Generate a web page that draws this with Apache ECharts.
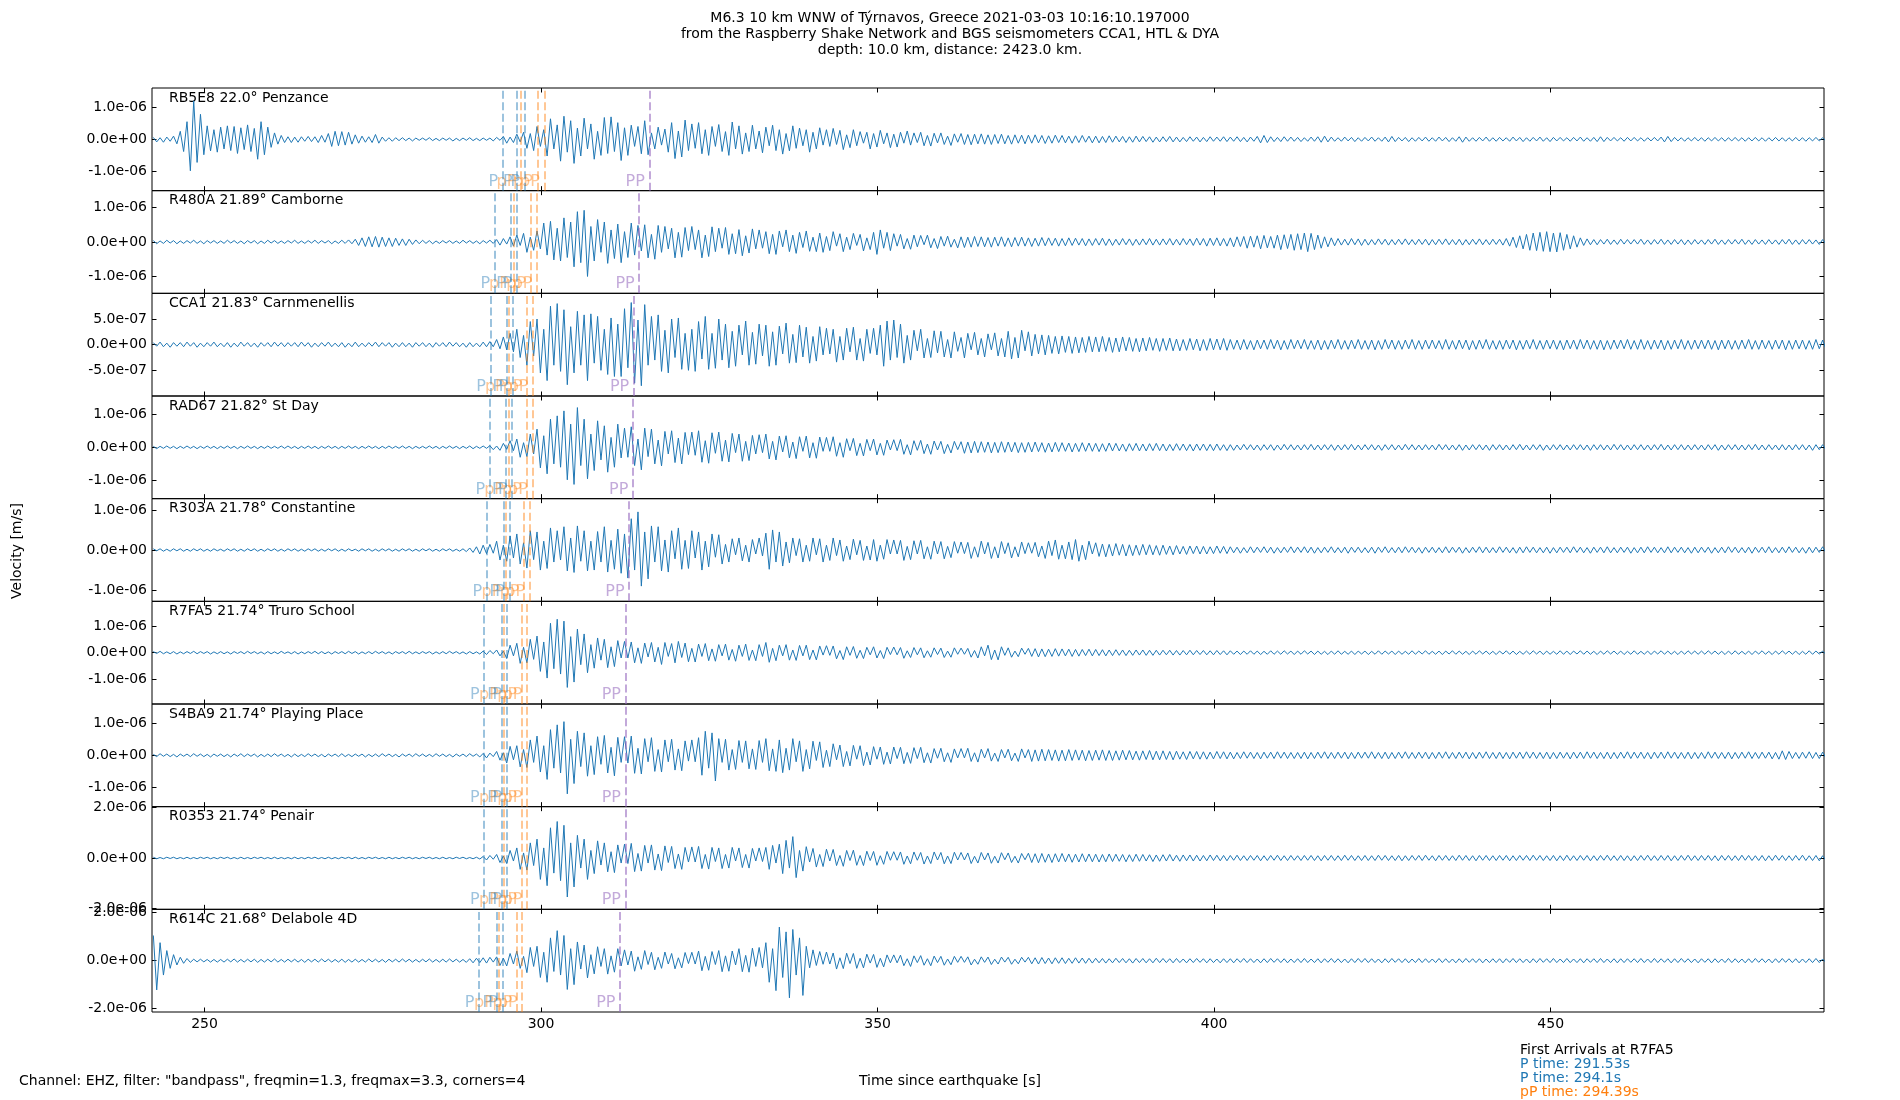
<!DOCTYPE html>
<html>
<head>
<meta charset="utf-8">
<title>Seismograms</title>
<script src="https://cdn.jsdelivr.net/npm/echarts@6/dist/echarts.min.js"></script>
<style>
html, body { margin: 0; padding: 0; background: #fff; }
#chart { width: 1900px; height: 1100px; }
</style>
</head>
<body>
<div id="chart"></div>
<script>
// samples every 0.5 s from 242.4 s, velocity in units of 1e-8 m/s
var T0 = 242.4, DT = 0.5;

var stations = ['RB5E8 22.0° Penzance', 'R480A 21.89° Camborne', 'CCA1 21.83° Carnmenellis',
    'RAD67 21.82° St Day', 'R303A 21.78° Constantine', 'R7FA5 21.74° Truro School',
    'S4BA9 21.74° Playing Place', 'R0353 21.74° Penair', 'R614C 21.68° Delabole 4D'];

var yMax = [1.6e-6, 1.49e-6, 1.0e-6, 1.55e-6, 1.28e-6, 1.92e-6, 1.6e-6, 2.04e-6, 2.14e-6];
var yTicks = [[-1e-6, 0, 1e-6], [-1e-6, 0, 1e-6], [-5e-7, 0, 5e-7], [-1e-6, 0, 1e-6], [-1e-6, 0, 1e-6],
    [-1e-6, 0, 1e-6], [-1e-6, 0, 1e-6], [-2e-6, 0, 2e-6], [-2e-6, 0, 2e-6]];
var xTicks = [250, 300, 350, 400, 450];

// arrival times (s) per station, top to bottom
var phaseNames = ['P', 'P', 'pP', 'P', 'pP', 'pP', 'PP'];
var tP1 = [294.28, 293.10, 292.46, 292.35, 291.93, 291.53, 291.53, 291.53, 290.75];
var tP2 = [296.46, 295.45, 294.90, 294.80, 294.44, 294.10, 294.10, 294.10, 293.40];
var tpP1 = [297.00, 295.88, 295.27, 295.16, 294.76, 294.39, 294.39, 294.39, 293.65];
var tP3 = [297.55, 296.42, 295.80, 295.70, 295.28, 294.87, 294.87, 294.87, 294.25];
var tpP2 = [299.44, 298.45, 297.91, 297.82, 297.46, 297.10, 297.10, 297.10, 296.40];
var tpP3 = [300.48, 299.39, 298.80, 298.70, 298.30, 297.91, 297.91, 297.91, 297.20];
var tPP = [316.08, 314.58, 313.77, 313.63, 313.09, 312.54, 312.54, 312.54, 311.73];

var firstArrivalNames = ['P', 'P', 'pP'];
var firstArrivalTimes = [291.53, 294.1, 294.39];

var penzance = [
6,-8,5,-9,7,-6,10,-14,25,-38,55,-98,120,-72,78,-48,42,-36,30,-40,
38,-30,42,-35,40,-44,36,-32,45,-38,34,-62,55,-48,38,-25,20,-15,12,-10,
8,-10,7,-9,8,-6,9,-7,8,-10,12,-9,18,-22,25,-20,24,-18,22,-15,
14,-12,10,-9,8,-10,15,-12,7,-6,5,-6,5,-4,5,-4,4,-5,4,-3,
4,-3,5,-4,3,-4,4,-3,4,-5,3,-4,4,-3,5,-4,3,-4,4,-3,
4,-5,6,-3,9,-12,7,-10,16,-8,22,-28,18,-35,40,-22,30,-52,64,-30,
45,-68,72,-40,58,-75,35,-52,66,-30,48,-62,25,-50,68,-44,70,-38,52,-66,
36,-50,44,-22,40,-45,58,-48,20,-30,38,-18,32,-40,52,-60,26,-55,60,-35,
48,-28,52,-45,30,-50,40,-22,46,-38,24,-50,54,-30,42,-46,20,-38,44,-30,
26,-42,38,-20,44,-35,30,-46,18,-36,42,-28,35,-20,30,-40,22,-30,36,-18,
30,-22,34,-16,28,-32,14,-26,30,-20,24,-12,22,-30,18,-24,28,-14,20,-26,
16,-24,22,-12,26,-18,20,-10,22,-20,12,-21,19,-11,20,-16,10,-19,17,-9,
18,-16,15,-17,16,-14,17,-15,14,-16,15,-13,16,-14,12,-15,14,-12,13,-14,
13,-12,14,-11,12,-13,11,-12,13,-10,12,-11,10,-12,11,-10,12,-9,10,-11,
10,-11,9,-10,11,-9,10,-8,9,-10,8,-9,10,-8,9,-7,8,-9,7,-8,
8,-7,9,-8,7,-8,6,-7,8,-6,7,-8,6,-7,8,-6,7,-6,8,-7,
7,-6,8,-7,6,-8,7,-6,9,-11,12,-10,8,-7,6,-7,8,-6,7,-6,
6,-7,5,-6,7,-6,8,-9,10,-8,7,-6,5,-6,7,-5,6,-7,5,-6,
6,-5,7,-6,5,-6,7,-8,9,-7,6,-5,6,-7,5,-6,6,-5,7,-6,
5,-6,7,-5,6,-7,5,-6,8,-9,7,-6,5,-6,6,-5,7,-6,5,-6,
6,-5,5,-6,7,-5,6,-7,5,-6,6,-5,7,-6,5,-7,6,-5,6,-5,
5,-6,6,-5,7,-6,5,-6,6,-7,8,-7,6,-5,6,-5,5,-6,6,-5,
6,-5,5,-6,5,-5,6,-5,7,-8,9,-7,6,-5,5,-6,5,-5,6,-5,
5,-6,5,-5,6,-5,5,-6,5,-5,6,-5,5,-6,5,-5,6,-5,5,-6,
5,-5,6,-5,5,-6,5,-5,6,-5,5,-6,5,-5,6,-5,5,-6,5,-5
];

var camborne = [
4,-5,3,-4,5,-3,4,-5,3,-4,4,-3,5,-4,3,-5,4,-3,4,-4,
3,-4,5,-3,4,-4,3,-5,4,-3,4,-5,3,-4,5,-3,4,-4,3,-4,
4,-3,5,-4,3,-4,4,-3,5,-4,4,-3,4,-5,3,-4,5,-4,6,-5,
8,-10,12,-13,15,-14,16,-15,14,-13,12,-13,11,-10,9,-10,8,-7,6,-5,
5,-4,4,-5,3,-4,4,-3,4,-4,3,-4,5,-3,4,-4,3,-5,4,-3,
5,-4,7,-9,10,-6,15,-12,20,-10,25,-30,14,-24,32,-20,55,-38,60,-52,
40,-55,70,-45,58,-72,88,-60,92,-100,45,-55,65,-30,58,-62,35,-48,52,-60,
30,-45,55,-38,48,-26,50,-46,22,-50,48,-30,45,-20,40,-46,28,-44,42,-25,
45,-22,35,-46,20,-42,44,-28,40,-18,42,-36,24,-34,36,-40,18,-32,38,-20,
35,-18,30,-34,22,-36,32,-14,35,-28,20,-33,28,-16,32,-27,14,-28,26,-30,
16,-25,30,-12,24,-28,14,-22,25,-10,22,-26,12,-22,28,-36,35,-18,28,-25,
24,-12,22,-20,10,-21,20,-14,19,-8,20,-17,10,-19,16,-12,17,-15,8,-17,
15,-16,14,-15,16,-13,15,-14,13,-15,14,-12,15,-13,12,-14,13,-12,14,-12,
12,-13,11,-12,13,-11,12,-10,11,-12,10,-11,12,-10,11,-9,10,-11,9,-10,
10,-9,11,-10,9,-10,8,-9,10,-8,9,-10,8,-9,9,-8,10,-9,8,-9,
9,-8,10,-9,8,-9,10,-8,9,-10,11,-9,10,-12,11,-10,12,-11,10,-12,
12,-14,15,-13,16,-18,17,-15,18,-20,19,-17,16,-18,20,-22,21,-19,22,-24,
24,-22,26,-28,25,-22,20,-18,15,-14,12,-11,10,-9,8,-9,10,-8,9,-10,
8,-9,7,-8,9,-7,8,-9,7,-8,8,-7,9,-8,7,-8,8,-7,8,-9,
7,-8,8,-7,9,-8,7,-8,8,-9,7,-8,8,-7,9,-8,7,-8,8,-7,
8,-9,10,-12,14,-16,18,-20,22,-24,26,-25,28,-27,30,-28,26,-29,27,-24,
22,-20,18,-15,12,-10,9,-8,7,-8,7,-6,8,-7,6,-7,8,-6,7,-6,
7,-6,8,-7,6,-7,7,-6,8,-7,6,-7,7,-6,7,-8,6,-7,7,-6,
6,-7,7,-6,8,-7,6,-7,7,-6,7,-6,8,-7,6,-7,7,-6,6,-7,
7,-6,6,-7,7,-6,8,-7,6,-7,7,-6,7,-6,6,-7,7,-6,6,-7
];

var carnmenellis = [
4,-3,5,-4,3,-5,4,-3,4,-4,5,-3,4,-5,3,-4,4,-3,5,-4,
3,-4,4,-5,3,-4,5,-3,4,-4,3,-5,4,-3,4,-4,5,-3,4,-4,
4,-3,4,-4,5,-3,4,-5,3,-4,4,-3,5,-4,3,-4,4,-5,3,-4,
5,-4,3,-4,4,-3,5,-4,4,-3,4,-5,3,-4,4,-4,3,-5,4,-3,
4,-4,3,-5,4,-3,4,-4,5,-3,4,-4,3,-5,4,-4,3,-4,5,-4,
6,-4,10,-8,15,-10,22,-14,30,-25,18,-40,45,-22,50,-55,30,-70,75,-40,
80,-52,68,-78,35,-55,65,-40,58,-70,60,-36,55,-50,30,-58,52,-62,40,-62,
70,-45,82,-75,48,-80,78,-40,55,-30,58,-52,28,-55,50,-25,52,-48,22,-50,
30,-52,45,-28,55,-48,22,-46,50,-30,40,-45,26,-42,38,-20,46,-40,24,-38,
40,-22,38,-42,25,-40,36,-18,42,-36,20,-35,38,-24,34,-36,16,-32,35,-20,
32,-18,30,-34,16,-30,32,-14,34,-30,12,-32,30,-17,32,-20,38,-42,46,-30,
48,-25,40,-36,18,-30,28,-12,30,-26,12,-25,27,-16,26,-24,10,-26,25,-13,
14,-26,22,-10,24,-20,12,-24,21,-10,23,-22,12,-24,26,-28,14,-26,28,-12,
25,-22,20,-18,19,-20,18,-17,16,-18,17,-15,16,-17,15,-16,14,-15,16,-14,
15,-14,16,-13,14,-15,13,-14,15,-12,14,-13,12,-14,13,-12,14,-11,12,-13,
12,-11,13,-12,11,-12,10,-11,12,-10,11,-12,10,-11,12,-10,11,-10,12,-11,
10,-9,9,-10,10,-9,8,-10,9,-8,9,-9,10,-8,9,-10,8,-9,10,-8,
9,-8,10,-9,8,-9,9,-10,8,-9,9,-8,10,-9,8,-9,9,-8,10,-9,
8,-9,9,-10,8,-9,10,-8,9,-9,8,-9,9,-8,10,-9,8,-9,9,-8,
9,-8,8,-9,10,-9,8,-9,9,-8,9,-10,8,-9,9,-8,10,-9,8,-9,
8,-9,9,-8,9,-10,8,-9,9,-8,10,-9,8,-9,9,-8,9,-9,8,-10,
9,-8,9,-9,10,-8,9,-9,8,-9,9,-10,8,-9,9,-8,9,-8,10,-9,
8,-9,10,-9,8,-9,9,-8,9,-10,8,-9,9,-8,10,-9,8,-9,9,-8,
9,-8,9,-9,8,-10,9,-8,9,-9,8,-9,9,-8,10,-9,8,-9,9,-8,
8,-9,9,-8,9,-10,8,-9,9,-8,9,-9,8,-9,10,-8,9,-9,8,-9
];

var stDay = [
3,-4,3,-3,4,-3,3,-4,3,-3,4,-3,3,-4,3,-3,4,-3,3,-4,
3,-3,4,-3,3,-4,3,-3,4,-3,3,-4,3,-3,4,-3,3,-3,4,-3,
4,-3,3,-4,3,-3,4,-3,3,-4,3,-3,4,-3,3,-4,3,-3,4,-3,
3,-4,3,-3,4,-3,3,-4,3,-3,4,-3,3,-3,4,-3,3,-4,3,-3,
3,-3,4,-3,3,-4,3,-3,4,-3,3,-4,3,-3,4,-4,3,-3,4,-3,
5,-7,4,-9,12,-6,20,-10,25,-30,14,-28,40,-20,55,-62,35,-80,85,-50,
95,-60,110,-98,70,-112,120,-55,85,-95,40,-70,80,-38,65,-75,30,-60,70,-32,
58,-30,62,-55,25,-68,58,-28,55,-50,22,-56,48,-20,50,-46,28,-50,45,-22,
46,-24,50,-45,20,-48,44,-18,46,-42,22,-44,42,-16,40,-42,18,-40,36,-20,
38,-16,40,-35,18,-38,34,-14,35,-32,16,-34,32,-12,34,-32,14,-33,31,-12,
30,-12,32,-27,14,-30,26,-10,27,-25,12,-26,24,-10,25,-23,12,-24,22,-8,
23,-10,24,-21,8,-23,20,-9,21,-19,10,-21,19,-8,18,-19,9,-17,18,-7,
17,-18,16,-17,18,-16,17,-15,16,-17,15,-16,17,-15,16,-14,15,-16,14,-15,
15,-14,16,-13,14,-15,13,-14,15,-13,14,-12,13,-14,12,-13,14,-12,13,-12,
12,-13,11,-12,13,-11,12,-11,10,-12,11,-10,12,-11,10,-11,11,-10,12,-10,
10,-11,9,-10,11,-9,10,-10,9,-11,10,-9,10,-10,9,-10,10,-9,8,-10,
8,-9,7,-8,9,-7,8,-8,7,-9,8,-7,8,-9,7,-8,9,-7,8,-8,
7,-8,8,-7,9,-8,7,-8,8,-7,8,-9,7,-8,8,-7,9,-8,7,-8,
8,-7,8,-8,7,-9,8,-7,8,-8,7,-8,9,-7,8,-8,7,-8,8,-7,
7,-8,9,-7,8,-8,7,-8,8,-9,7,-8,8,-7,8,-8,7,-9,8,-7,
8,-8,7,-8,8,-7,9,-8,7,-8,8,-7,8,-9,7,-8,8,-7,8,-8,
7,-8,8,-7,8,-8,7,-9,8,-7,8,-8,7,-8,9,-7,8,-8,7,-8,
8,-7,8,-8,7,-8,8,-7,9,-8,7,-8,8,-7,8,-8,7,-8,8,-7,
7,-8,8,-7,8,-9,7,-8,8,-7,8,-8,7,-8,8,-7,9,-8,7,-8,
8,-7,7,-8,8,-8,7,-8,8,-7,8,-8,7,-9,8,-7,8,-8,7,-8
];

var constantine = [
3,-2,3,-3,2,-3,3,-2,3,-3,2,-3,3,-2,3,-3,2,-3,3,-2,
2,-3,3,-2,3,-3,2,-3,3,-2,3,-3,2,-3,3,-2,3,-3,2,-3,
3,-2,3,-3,2,-3,3,-2,3,-3,2,-3,3,-2,3,-3,2,-3,3,-2,
2,-3,3,-2,3,-3,2,-3,3,-2,3,-3,2,-3,3,-2,3,-3,2,-3,
3,-2,3,-3,2,-3,3,-2,3,-3,2,-3,3,-4,5,-6,8,-10,12,-9,
14,-8,22,-25,12,-28,35,-20,40,-35,18,-45,48,-24,45,-50,22,-46,55,-30,
48,-25,58,-52,30,-56,60,-28,48,-52,22,-50,46,-30,58,-55,24,-48,52,-58,
40,-70,78,-50,95,-90,45,-72,60,-30,58,-52,25,-55,48,-22,55,-48,24,-46,
48,-20,45,-50,22,-42,40,-18,38,-35,14,-30,28,-12,30,-27,12,-30,26,-10,
30,-15,42,-48,50,-30,45,-40,20,-32,30,-14,28,-30,12,-28,30,-12,28,-30,
12,-26,30,-14,25,-28,10,-24,27,-12,24,-26,10,-25,26,-28,12,-23,26,-10,
25,-10,24,-26,9,-24,23,-10,24,-22,8,-23,22,-10,21,-22,9,-19,21,-8,
20,-9,19,-21,8,-18,22,-10,19,-21,8,-20,21,-9,18,-20,8,-17,20,-9,
18,-8,19,-17,10,-21,22,-14,25,-23,12,-22,20,-24,26,-28,12,-24,22,-10,
18,-16,15,-17,14,-15,16,-13,14,-15,13,-14,12,-13,14,-12,13,-12,11,-13,
12,-11,10,-12,11,-10,9,-11,10,-9,10,-10,9,-10,8,-9,10,-8,9,-9,
8,-7,7,-8,6,-7,8,-7,7,-6,8,-7,7,-8,6,-7,7,-6,8,-7,
7,-6,8,-7,7,-8,6,-7,7,-6,8,-7,6,-7,7,-8,7,-6,7,-7,
6,-7,7,-8,7,-6,8,-7,6,-7,7,-7,8,-6,7,-7,6,-8,7,-6,
7,-7,6,-7,8,-7,7,-6,7,-8,6,-7,7,-6,8,-7,7,-7,6,-7,
8,-6,7,-7,6,-8,7,-7,8,-6,7,-7,6,-7,7,-8,6,-7,7,-6,
7,-7,8,-6,7,-7,6,-8,7,-6,7,-7,8,-7,6,-7,7,-6,7,-8,
6,-7,7,-7,8,-6,7,-7,6,-7,8,-7,7,-6,7,-7,6,-8,7,-7,
7,-6,7,-8,6,-7,7,-7,8,-6,7,-7,6,-7,7,-8,7,-6,7,-7,
8,-7,6,-7,7,-7,8,-6,7,-7,6,-8,7,-7,7,-6,8,-7,6,-7
];

var truroSchool = [
4,-3,5,-4,3,-4,4,-5,3,-4,4,-3,5,-4,4,-3,4,-5,3,-4,
4,-4,3,-5,4,-3,4,-4,5,-3,4,-4,3,-5,4,-4,3,-4,5,-3,
3,-4,4,-5,3,-4,4,-3,5,-4,4,-4,3,-5,4,-3,4,-4,5,-3,
4,-5,3,-4,4,-4,5,-3,4,-4,3,-5,4,-3,4,-4,5,-4,3,-4,
4,-3,4,-5,3,-4,4,-4,5,-3,4,-4,3,-5,4,-4,3,-5,6,-7,
8,-4,10,-12,6,-22,28,-12,35,-40,20,-38,50,-25,62,-70,40,-95,110,-60,
125,-80,118,-130,60,-110,88,-45,70,-75,30,-58,55,-28,50,-56,22,-52,45,-20,
42,-20,40,-38,18,-40,36,-16,38,-35,20,-44,38,-14,34,-38,42,-18,36,-34,
16,-35,32,-14,34,-30,14,-32,30,-12,32,-28,12,-32,28,-14,32,-29,10,-30,
30,-14,38,-36,16,-30,28,-12,30,-28,10,-29,27,-12,28,-26,10,-27,25,-9,
26,-10,25,-23,8,-26,22,-10,23,-21,9,-22,20,-8,22,-20,8,-22,20,-7,
21,-8,19,-21,7,-18,19,-8,18,-19,7,-17,18,-7,17,-18,6,-17,18,-6,
17,-6,16,-17,8,-20,22,-12,28,-26,10,-27,22,-10,18,-17,6,-15,17,-6,
16,-14,15,-16,14,-15,13,-14,15,-13,14,-12,13,-14,12,-13,12,-11,13,-12,
12,-11,11,-12,10,-11,11,-10,10,-11,9,-10,10,-9,10,-10,9,-10,9,-9,
9,-8,9,-9,8,-9,8,-8,9,-8,8,-7,8,-8,7,-8,8,-7,7,-8,
7,-6,6,-7,6,-6,7,-6,6,-7,5,-6,7,-6,6,-6,7,-5,6,-7,
6,-6,7,-5,6,-7,6,-6,5,-7,6,-6,7,-6,5,-6,6,-7,6,-5,
6,-7,5,-6,7,-6,6,-5,6,-7,6,-6,5,-6,7,-6,6,-5,7,-6,
5,-6,6,-7,6,-5,7,-6,6,-6,5,-7,6,-6,7,-5,6,-6,5,-7,
6,-5,7,-6,6,-7,5,-6,6,-6,7,-5,6,-7,6,-6,5,-6,7,-6,
6,-7,6,-5,7,-6,6,-6,5,-7,6,-6,7,-5,6,-6,6,-7,5,-6,
7,-6,5,-6,6,-7,6,-5,7,-6,6,-6,5,-7,6,-6,7,-5,6,-6,
6,-6,7,-5,6,-6,5,-7,6,-6,7,-6,5,-6,6,-7,6,-5,7,-6,
5,-7,6,-6,7,-5,6,-6,6,-7,5,-6,7,-6,6,-5,6,-7,6,-6
];

var playingPlace = [
3,-4,5,-3,4,-4,3,-5,4,-3,4,-4,5,-3,4,-4,3,-5,4,-3,
4,-4,3,-5,4,-3,5,-4,4,-3,4,-5,3,-4,4,-4,5,-3,4,-4,
3,-5,4,-4,3,-4,5,-3,4,-4,3,-5,4,-3,4,-4,5,-4,3,-4,
4,-3,4,-5,3,-4,4,-4,5,-3,4,-4,3,-5,4,-3,4,-4,5,-3,
4,-4,3,-4,5,-3,4,-4,3,-5,4,-3,4,-4,5,-3,4,-5,6,-8,
7,-4,12,-15,8,-24,28,-14,30,-36,18,-38,48,-22,60,-52,30,-75,80,-40,
95,-55,105,-120,50,-88,75,-35,70,-65,30,-60,58,-28,62,-55,25,-64,56,-22,
58,-24,60,-56,22,-58,52,-20,55,-50,18,-52,48,-20,50,-46,20,-48,45,-18,
48,-20,55,-62,75,-40,70,-80,52,-22,50,-46,18,-44,46,-22,45,-42,20,-44,
46,-22,52,-48,20,-50,48,-54,22,-46,52,-20,45,-50,18,-42,44,-16,42,-38,
16,-35,36,-14,32,-35,12,-33,31,-12,30,-32,10,-30,27,-12,26,-28,10,-27,
26,-10,25,-26,9,-25,24,-10,25,-23,8,-24,21,-9,22,-20,8,-22,20,-8,
21,-8,22,-19,8,-21,19,-8,21,-18,7,-19,18,-8,19,-17,7,-19,20,-8,
18,-19,17,-18,19,-17,18,-16,17,-18,16,-17,18,-16,17,-15,16,-17,15,-16,
16,-15,17,-16,15,-16,14,-15,16,-14,15,-14,13,-15,14,-13,15,-14,13,-14,
14,-13,12,-14,13,-12,11,-13,12,-11,12,-12,11,-12,10,-11,12,-10,11,-11,
10,-11,9,-10,11,-9,10,-10,9,-11,10,-9,10,-10,11,-9,10,-10,9,-10,
9,-10,10,-11,9,-10,10,-9,11,-10,9,-10,10,-9,10,-11,9,-10,10,-9,
10,-9,11,-10,9,-10,10,-11,9,-10,10,-9,11,-10,9,-10,10,-9,10,-11,
9,-10,10,-9,11,-10,9,-10,10,-9,10,-11,9,-10,10,-9,11,-10,9,-10,
10,-10,9,-11,10,-9,10,-10,11,-9,10,-10,9,-10,10,-11,9,-10,10,-9,
9,-11,10,-9,10,-10,11,-9,10,-10,9,-10,10,-11,9,-10,10,-9,11,-10,
10,-9,10,-10,9,-11,10,-9,10,-10,11,-9,10,-10,9,-10,10,-11,9,-10,
9,-10,11,-9,10,-10,9,-10,10,-11,9,-10,10,-9,11,-10,9,-10,10,-9,
10,-11,9,-12,14,-13,12,-10,9,-10,10,-9,11,-10,9,-10,10,-9,10,-10
];

var penair = [
3,-3,2,-3,3,-2,3,-3,2,-3,3,-3,2,-3,3,-2,3,-3,2,-3,
3,-2,3,-3,2,-3,3,-3,2,-3,3,-2,3,-3,2,-3,3,-3,2,-3,
2,-3,3,-3,2,-3,3,-2,3,-3,2,-3,3,-3,2,-3,3,-2,3,-3,
3,-3,2,-3,3,-2,3,-3,2,-3,3,-3,2,-3,3,-2,3,-3,2,-3,
3,-2,3,-3,2,-3,3,-3,2,-3,3,-2,3,-3,2,-3,3,-4,6,-8,
10,-5,14,-18,8,-22,30,-12,40,-45,20,-48,60,-30,75,-85,40,-110,120,-60,
145,-90,130,-155,60,-115,90,-40,75,-85,30,-62,68,-28,60,-55,25,-58,52,-20,
55,-22,58,-54,18,-52,50,-20,52,-48,16,-50,48,-18,46,-42,16,-45,42,-16,
44,-16,46,-42,14,-44,42,-14,40,-42,14,-40,42,-12,40,-38,14,-40,38,-12,
40,-14,42,-45,50,-20,55,-62,70,-40,85,-78,30,-52,45,-16,38,-36,14,-34,
35,-12,34,-30,10,-33,30,-10,31,-29,10,-30,27,-10,26,-29,9,-25,26,-9,
25,-9,24,-25,8,-23,24,-9,22,-24,8,-22,24,-8,22,-23,8,-22,23,-8,
22,-8,20,-22,7,-20,22,-8,20,-21,7,-20,21,-7,20,-18,7,-20,18,-7,
19,-18,17,-19,18,-17,16,-18,17,-16,18,-15,16,-17,15,-16,17,-15,16,-15,
15,-16,14,-15,16,-14,15,-13,14,-15,13,-14,15,-13,14,-12,13,-14,12,-13,
13,-12,14,-12,11,-13,12,-11,12,-12,11,-12,10,-11,12,-10,11,-11,10,-11,
10,-9,11,-10,9,-10,10,-9,10,-11,9,-10,10,-9,11,-10,9,-10,10,-9,
9,-10,10,-9,10,-10,9,-11,10,-9,10,-10,9,-10,11,-9,10,-10,9,-10,
10,-10,9,-10,11,-9,10,-10,9,-10,10,-11,9,-10,10,-9,10,-10,11,-9,
9,-11,10,-9,10,-10,9,-10,11,-9,10,-10,9,-11,10,-9,10,-10,9,-10,
10,-9,10,-11,9,-10,10,-9,10,-10,11,-9,10,-10,9,-10,10,-11,9,-10,
11,-10,9,-10,10,-9,10,-11,9,-10,10,-9,11,-10,9,-10,10,-10,9,-11,
9,-10,10,-9,11,-10,9,-10,10,-9,10,-11,9,-10,10,-9,11,-10,9,-10,
10,-9,10,-10,9,-11,10,-9,10,-10,9,-10,11,-9,10,-10,9,-10,10,-11,
9,-10,11,-9,10,-10,9,-10,10,-9,11,-10,9,-10,10,-11,9,-10,10,-9
];

var delabole = [
105,-122,75,-60,42,-32,25,-18,14,-11,9,-7,6,-5,6,-5,5,-6,5,-6,
5,-6,6,-5,7,-6,5,-6,6,-5,6,-7,5,-6,6,-5,7,-6,5,-6,
6,-5,6,-6,5,-7,6,-5,6,-6,7,-5,6,-6,5,-6,6,-7,5,-6,
6,-6,5,-6,7,-5,6,-6,5,-7,6,-5,6,-6,7,-5,6,-6,5,-6,
6,-5,7,-6,5,-6,6,-6,7,-5,6,-6,5,-7,8,-9,10,-8,12,-10,
14,-6,16,-20,10,-22,30,-14,40,-32,18,-50,55,-24,60,-70,35,-90,95,-45,
125,-60,105,-120,50,-100,78,-35,65,-72,25,-55,58,-24,50,-56,20,-48,50,-22,
45,-18,40,-44,16,-36,42,-16,35,-38,14,-32,36,-14,30,-34,12,-30,34,-12,
35,-14,40,-42,18,-40,38,-16,42,-46,20,-44,40,-18,50,-46,22,-48,52,-24,
55,-30,75,-90,50,-125,140,-70,120,-155,130,-60,95,-145,60,-30,45,-20,38,-15,
36,-14,32,-35,12,-33,31,-12,30,-32,10,-30,27,-10,26,-28,10,-26,24,-9,
24,-9,23,-21,8,-24,20,-8,21,-19,8,-21,19,-8,18,-19,7,-17,18,-7,
18,-7,16,-18,6,-15,16,-7,15,-16,6,-14,15,-6,14,-15,6,-13,14,-6,
14,-13,12,-14,13,-12,11,-13,12,-11,12,-12,10,-11,12,-10,11,-11,10,-10,
10,-9,9,-10,8,-9,10,-8,9,-9,8,-10,9,-8,9,-9,8,-9,10,-8,
9,-8,8,-9,9,-8,7,-9,8,-8,9,-7,8,-9,8,-8,7,-9,8,-8,
8,-9,8,-7,9,-8,8,-8,7,-9,8,-8,9,-7,8,-8,8,-9,7,-8,
8,-8,9,-8,7,-8,8,-9,8,-7,9,-8,8,-8,7,-9,8,-8,9,-7,
9,-8,8,-8,7,-9,8,-8,9,-7,8,-8,8,-9,7,-8,9,-8,8,-8,
7,-8,9,-8,8,-8,7,-9,8,-8,9,-7,8,-8,8,-9,7,-8,8,-8,
8,-9,8,-7,9,-8,8,-8,7,-9,8,-8,9,-7,8,-8,9,-8,7,-8,
9,-8,7,-8,8,-9,8,-7,8,-8,9,-8,7,-8,8,-9,8,-8,8,-7,
8,-8,9,-8,7,-8,9,-8,8,-7,8,-9,8,-8,9,-7,8,-8,7,-9,
8,-7,8,-9,8,-8,7,-8,9,-8,8,-8,7,-9,8,-8,9,-7,8,-8,
7,-9,8,-8,9,-7,8,-8,8,-9,7,-8,8,-8,9,-8,7,-8,8,-9
];

var traces = [penzance, camborne, carnmenellis, stDay, constantine, truroSchool, playingPlace, penair, delabole];
var phaseTimes = [tP1, tP2, tpP1, tP3, tpP2, tpP3, tPP];

var FONT = 'DejaVu Sans';
var phaseColor = {
    'P': 'rgba(31,119,180,0.55)',
    'pP': 'rgba(255,127,14,0.55)',
    'PP': 'rgba(148,103,189,0.7)'
};
var arrivalColor = {'P': '#1f77b4', 'pP': '#ff7f0e'};

var sci = function (v) {
    if (Math.abs(v) < 1e-15) return '0.0e+00';
    var parts = v.toExponential(1).split('e');
    var e = parseInt(parts[1], 10);
    var a = Math.abs(e);
    return parts[0] + 'e' + (e < 0 ? '-' : '+') + (a < 10 ? '0' + a : a);
};

var box = echarts.init(document.getElementById('chart'));
var TOP = 88, PH = 924 / 9, LEFT = 152, RIGHT = 76;
var XMIN = 242.2, XMAX = 490.6;

var grids = [], xAxes = [], yAxes = [], series = [], graphics = [];

stations.forEach(function (name, i) {
    var last = i === stations.length - 1;
    grids.push({
        left: LEFT, right: RIGHT, top: TOP + i * PH, height: PH,
        show: true, borderColor: '#000', borderWidth: 1
    });
    [['bottom', last], ['top', false]].forEach(function (p) {
        xAxes.push({
            type: 'value', gridIndex: i, position: p[0], min: XMIN, max: XMAX,
            axisLine: {show: false, onZero: false},
            axisTick: {show: true, inside: true, length: 4.5, customValues: xTicks, lineStyle: {color: '#000'}},
            axisLabel: {show: p[1], customValues: xTicks, margin: 5, color: '#000', fontSize: 14, fontFamily: FONT},
            splitLine: {show: false}
        });
    });
    ['left', 'right'].forEach(function (pos) {
        yAxes.push({
            type: 'value', gridIndex: i, position: pos, min: -yMax[i], max: yMax[i],
            axisLine: {show: false, onZero: false},
            axisTick: {show: true, inside: true, length: 4.5, customValues: yTicks[i], lineStyle: {color: '#000'}},
            axisLabel: {show: pos === 'left', customValues: yTicks[i], margin: 5, color: '#000',
                fontSize: 14, fontFamily: FONT, formatter: sci},
            splitLine: {show: false}
        });
    });

    series.push({
        type: 'line', xAxisIndex: 2 * i, yAxisIndex: 2 * i,
        showSymbol: false, symbol: 'none', animation: false, silent: true,
        lineStyle: {color: '#1f77b4', width: 1},
        data: traces[i].map(function (v, k) { return [T0 + k * DT, v * 1e-8]; }),
        markLine: {
            silent: true, symbol: ['none', 'none'], animation: false,
            label: {show: false},
            data: phaseTimes.map(function (arr, j) {
                return {xAxis: arr[i], lineStyle: {color: phaseColor[phaseNames[j]], type: [8, 3.5], width: 1.6}};
            })
        }
    });
    // phase names at the foot of each dashed line
    series.push({
        type: 'scatter', xAxisIndex: 2 * i, yAxisIndex: 2 * i,
        symbol: 'circle', symbolSize: 1, itemStyle: {color: 'rgba(0,0,0,0)'},
        clip: false, animation: false, silent: true,
        data: phaseTimes.map(function (arr, j) {
            return {
                value: [arr[i], -yMax[i]], name: phaseNames[j],
                label: {color: phaseColor[phaseNames[j]]}
            };
        }),
        label: {
            show: true, position: 'left', distance: 4, offset: [0, -9],
            formatter: '{b}', fontSize: 16, fontFamily: FONT
        }
    });

    graphics.push({
        type: 'text', x: 169, y: TOP + i * PH + 10,
        style: {text: name, font: '14px "' + FONT + '"', fill: '#000', textVerticalAlign: 'middle'}
    });
});

graphics.push({
    type: 'text', x: 950, y: 18,
    style: {text: 'M6.3 10 km WNW of Týrnavos, Greece 2021-03-03 10:16:10.197000',
        font: '14px "' + FONT + '"', fill: '#000', textAlign: 'center', textVerticalAlign: 'middle'}
});
graphics.push({
    type: 'text', x: 950, y: 34,
    style: {text: 'from the Raspberry Shake Network and BGS seismometers CCA1, HTL & DYA',
        font: '14px "' + FONT + '"', fill: '#000', textAlign: 'center', textVerticalAlign: 'middle'}
});
graphics.push({
    type: 'text', x: 950, y: 50,
    style: {text: 'depth: 10.0 km, distance: 2423.0 km.',
        font: '14px "' + FONT + '"', fill: '#000', textAlign: 'center', textVerticalAlign: 'middle'}
});
graphics.push({
    type: 'text', x: 17, y: 551, rotation: Math.PI / 2,
    style: {text: 'Velocity [m/s]', font: '14px "' + FONT + '"', fill: '#000',
        textAlign: 'center', textVerticalAlign: 'middle'}
});
graphics.push({
    type: 'text', x: 19, y: 1081,
    style: {text: 'Channel: EHZ, filter: "bandpass", freqmin=1.3, freqmax=3.3, corners=4',
        font: '14px "' + FONT + '"', fill: '#000', textVerticalAlign: 'middle'}
});
graphics.push({
    type: 'text', x: 950, y: 1081,
    style: {text: 'Time since earthquake [s]', font: '14px "' + FONT + '"', fill: '#000',
        textAlign: 'center', textVerticalAlign: 'middle'}
});
graphics.push({
    type: 'text', x: 1520, y: 1050,
    style: {text: 'First Arrivals at R7FA5', font: '14px "' + FONT + '"', fill: '#000', textVerticalAlign: 'middle'}
});
firstArrivalNames.forEach(function (n, k) {
    graphics.push({
        type: 'text', x: 1520, y: 1064 + k * 14,
        style: {text: n + ' time: ' + firstArrivalTimes[k] + 's', font: '14px "' + FONT + '"',
            fill: arrivalColor[n], textVerticalAlign: 'middle'}
    });
});

var option = {
    backgroundColor: '#fff',
    animation: false,
    grid: grids,
    xAxis: xAxes,
    yAxis: yAxes,
    series: series,
    graphic: graphics
};
box.setOption(option);
</script>
</body>
</html>
